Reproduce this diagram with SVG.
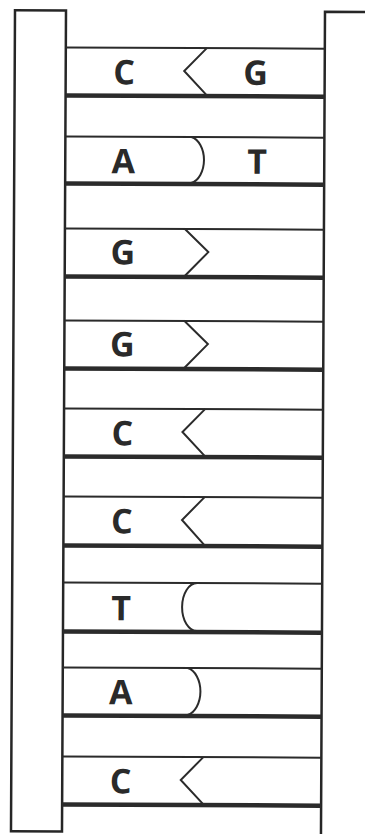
<svg xmlns="http://www.w3.org/2000/svg" width="365" height="834" viewBox="0 0 365 834">
  <style>
    .bb { fill: #ffffff; stroke: #262626; stroke-width: 2.5; }
    .thin { stroke: #2b2b2b; stroke-width: 2; fill: none; }
    .thick { stroke: #2b2b2b; stroke-width: 4.5; fill: none; }
    .shape { stroke: #2b2b2b; stroke-width: 2; fill: none; stroke-linejoin: miter; }
    .base { font-family: "Open Sans", "Liberation Sans", sans-serif; font-weight: 700; font-size: 34px; fill: #2a2a2a; text-anchor: middle; }
  </style>
  <rect width="365" height="834" fill="#ffffff"/>
  <g transform="rotate(0.28 182 420)">
    <g id="backbone-left">
      <rect class="bb" x="13" y="11" width="51" height="821"/>
    </g>
    <g id="backbone-right">
      <path class="bb" d="M372,11 L323,11 L323,845"/>
    </g>

    <g id="rung-1">
      <line class="thin" x1="64" y1="48" x2="323" y2="48"/>
      <line class="thick" x1="64" y1="96" x2="323" y2="96"/>
      <path class="shape" d="M205,48 L182.5,71 L205,95"/>
      <text class="base" x="122.5" y="84.5">C</text>
      <text class="base" x="254" y="84.5">G</text>
    </g>
    <g id="rung-2">
      <line class="thin" x1="64" y1="137" x2="323" y2="137"/>
      <line class="thick" x1="64" y1="184" x2="323" y2="184"/>
      <path class="shape" d="M190,137 A16,23.5 0 0 1 190,183"/>
      <text class="base" x="122" y="173.5">A</text>
      <text class="base" x="256" y="173.5">T</text>
    </g>
    <g id="rung-3">
      <line class="thin" x1="64" y1="229" x2="323" y2="229"/>
      <line class="thick" x1="64" y1="277" x2="323" y2="277"/>
      <path class="shape" d="M184,229 L207.5,252 L184,276"/>
      <text class="base" x="122" y="264.5">G</text>
    </g>
    <g id="rung-4">
      <line class="thin" x1="64" y1="321" x2="323" y2="321"/>
      <line class="thick" x1="64" y1="369" x2="323" y2="369"/>
      <path class="shape" d="M184,321 L207.5,344 L184,368"/>
      <text class="base" x="122" y="356.5">G</text>
    </g>
    <g id="rung-5">
      <line class="thin" x1="64" y1="409" x2="323" y2="409"/>
      <line class="thick" x1="64" y1="457" x2="323" y2="457"/>
      <path class="shape" d="M205,409 L182.5,432 L205,456"/>
      <text class="base" x="122.5" y="445.5">C</text>
    </g>
    <g id="rung-6">
      <line class="thin" x1="64" y1="497" x2="323" y2="497"/>
      <line class="thick" x1="64" y1="546" x2="323" y2="546"/>
      <path class="shape" d="M205,497 L182.5,520 L205,545"/>
      <text class="base" x="122.5" y="533.5">C</text>
    </g>
    <g id="rung-7">
      <line class="thin" x1="64" y1="583" x2="323" y2="583"/>
      <line class="thick" x1="64" y1="632" x2="323" y2="632"/>
      <path class="shape" d="M198,583 A15,24 0 0 0 198,631"/>
      <text class="base" x="122" y="620.5">T</text>
    </g>
    <g id="rung-8">
      <line class="thin" x1="64" y1="668" x2="323" y2="668"/>
      <line class="thick" x1="64" y1="716" x2="323" y2="716"/>
      <path class="shape" d="M189,668 A16,24 0 0 1 189,715"/>
      <text class="base" x="122" y="704.5">A</text>
    </g>
    <g id="rung-9">
      <line class="thin" x1="64" y1="757" x2="323" y2="757"/>
      <line class="thick" x1="64" y1="805" x2="323" y2="805"/>
      <path class="shape" d="M205,757 L182.5,780 L205,804"/>
      <text class="base" x="122.5" y="793.5">C</text>
    </g>
  </g>
</svg>
